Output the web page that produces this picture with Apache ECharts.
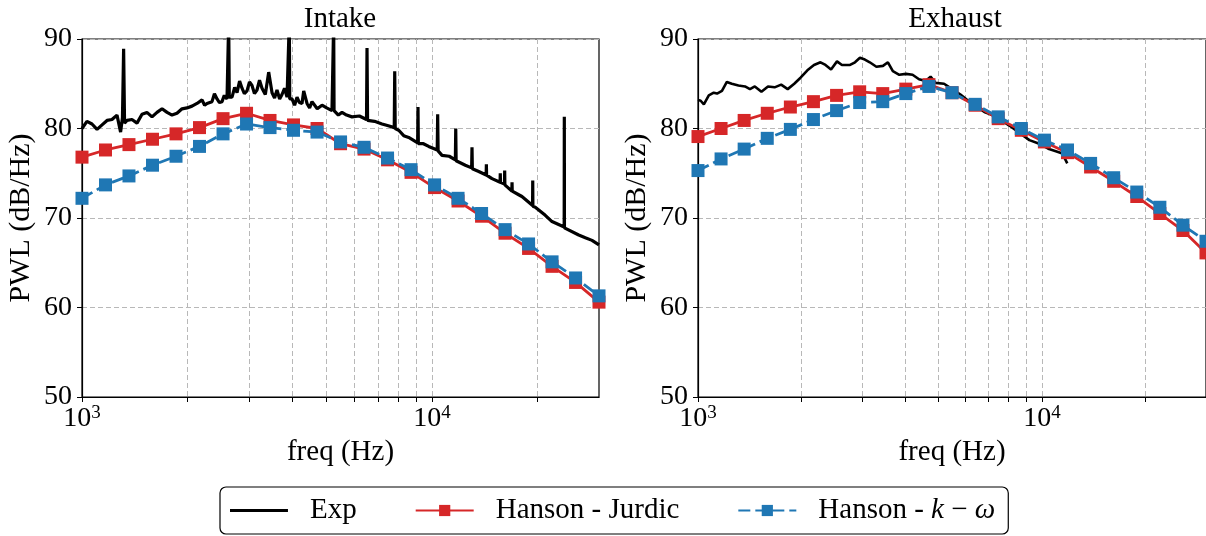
<!DOCTYPE html>
<html><head><meta charset="utf-8">
<script src="https://cdn.jsdelivr.net/npm/echarts@6/dist/echarts.min.js"></script>
<style>html,body{margin:0;padding:0;background:#fff}#c{width:1206px;height:536px}</style>
</head><body><div id="c"></div>
<script>
// ---------- data ----------
const panelTitles = ['Intake', 'Exhaust'];
const seriesNames = ['Exp', 'Hanson - Jurdic', 'Hanson - k − ω'];
const xTickValues = [1000, 2000, 3000, 4000, 5000, 6000, 7000, 8000, 9000, 10000, 20000];
const xLabelValues = [1000, 10000];
const yTicks = [50, 60, 70, 80, 90];

const markerFreq = [1000, 1167, 1362, 1590, 1856, 2166, 2529, 2952, 3445, 4021, 4694, 5479, 6395, 7464, 8712, 10169, 11869, 13854, 16170, 18874, 22030, 25714, 30000];

const intakeJurdic = [76.8, 77.6, 78.2, 78.8, 79.4, 80.1, 81.1, 81.7, 80.9, 80.4, 80.0, 78.3, 77.7, 76.5, 75.1, 73.4, 71.9, 70.2, 68.3, 66.6, 64.6, 62.8, 60.6];
const intakeKw     = [72.2, 73.7, 74.7, 75.9, 76.9, 78.0, 79.4, 80.5, 80.1, 79.8, 79.6, 78.5, 77.9, 76.7, 75.4, 73.7, 72.2, 70.5, 68.7, 67.1, 65.1, 63.3, 61.3];
const exhaustJurdic = [79.1, 80.0, 80.9, 81.7, 82.4, 83.0, 83.7, 84.1, 83.9, 84.4, 84.9, 84.0, 82.6, 81.1, 79.8, 78.5, 77.3, 75.7, 74.1, 72.4, 70.5, 68.6, 66.1];
const exhaustKw     = [75.3, 76.6, 77.7, 78.9, 79.9, 81.0, 82.0, 82.9, 83.0, 83.9, 84.7, 84.0, 82.7, 81.3, 80.0, 78.7, 77.6, 76.1, 74.5, 72.9, 71.2, 69.2, 67.4];

const intakeExpFreq = [1000, 1033, 1068, 1104, 1141, 1179, 1218, 1259, 1289, 1305, 1315, 1323, 1345, 1389, 1436, 1484, 1533, 1585, 1638, 1693, 1750, 1808, 1868, 1931, 1995, 2062, 2131, 2203, 2240, 2276, 2352, 2390, 2431, 2470, 2512, 2550, 2596, 2615, 2625, 2635, 2683, 2730, 2773, 2820, 2865, 2910, 2961, 3010, 3060, 3110, 3162, 3215, 3268, 3340, 3415, 3491, 3550, 3607, 3670, 3728, 3790, 3853, 3900, 3911, 3922, 3981, 4050, 4115, 4180, 4252, 4300, 4394, 4470, 4541, 4700, 4850, 5000, 5179, 5225, 5237, 5250, 5400, 5532, 5700, 5907, 6200, 6500, 6521, 6545, 6850, 7197, 7500, 7800, 7825, 7850, 8034, 8300, 8579, 9100, 9120, 9140, 9450, 9786, 10350, 10380, 10410, 10680, 11200, 11660, 11690, 11720, 12450, 12980, 13010, 13040, 13600, 14280, 14300, 14320, 14840, 15650, 15670, 15690, 16110, 16130, 16150, 16910, 16930, 16950, 17690, 18070, 19380, 19400, 19420, 19730, 21070, 22020, 23860, 23880, 23900, 24040, 26250, 27420, 28650, 30000];
const intakeExpPWL  = [80.0, 80.8, 80.5, 79.9, 80.4, 80.9, 81.0, 81.5, 79.6, 81.2, 88.9, 80.6, 80.9, 81.0, 80.6, 81.6, 81.8, 81.3, 81.8, 82.2, 81.8, 81.5, 81.7, 82.2, 82.3, 82.5, 82.8, 83.2, 82.6, 82.8, 83.0, 83.9, 83.3, 82.9, 83.0, 83.7, 83.3, 83.4, 92.0, 83.5, 83.5, 84.6, 84.0, 85.3, 84.5, 83.9, 84.2, 85.2, 84.8, 83.9, 84.3, 85.4, 84.5, 83.8, 86.3, 84.0, 83.4, 84.3, 83.3, 83.8, 84.5, 83.5, 83.4, 92.0, 83.3, 83.3, 82.6, 83.5, 82.9, 82.8, 84.2, 82.8, 82.3, 83.0, 82.2, 82.6, 82.3, 82.0, 82.0, 92.0, 82.0, 81.5, 81.8, 81.5, 81.3, 81.4, 81.0, 89.0, 80.9, 80.8, 80.5, 80.3, 80.1, 86.4, 80.0, 79.8, 79.2, 79.0, 78.4, 82.4, 78.3, 78.3, 78.0, 77.6, 81.6, 77.5, 77.0, 76.9, 76.5, 80.0, 76.4, 75.9, 75.6, 77.9, 75.5, 75.2, 74.8, 76.0, 74.8, 74.4, 74.0, 75.0, 74.0, 73.8, 75.3, 73.7, 73.0, 74.0, 73.0, 72.6, 72.4, 71.4, 74.2, 71.3, 71.2, 70.3, 69.6, 69.0, 81.3, 68.9, 68.9, 68.1, 67.8, 67.5, 67.0];

const exhaustExpFreq = [1000, 1018, 1040, 1075, 1111, 1136, 1174, 1213, 1254, 1311, 1370, 1416, 1463, 1529, 1598, 1670, 1745, 1823, 1905, 1990, 2080, 2174, 2271, 2348, 2437, 2536, 2621, 2768, 2861, 2957, 3056, 3158, 3301, 3450, 3566, 3686, 3849, 4024, 4206, 4393, 4591, 4745, 4904, 5193, 5486, 5796, 6056, 6470, 6834, 7383, 8060, 8609, 9196, 9823, 10490, 11090, 11470, 11850];
const exhaustExpPWL  = [83.2, 83.1, 82.7, 83.7, 84.0, 83.9, 84.2, 85.2, 85.0, 84.8, 84.7, 84.4, 84.7, 84.1, 84.7, 84.6, 84.9, 84.4, 85.0, 85.7, 86.5, 87.1, 87.4, 87.1, 86.6, 87.5, 87.1, 87.1, 87.4, 87.9, 87.7, 87.4, 86.9, 87.0, 87.4, 86.4, 86.0, 86.1, 86.0, 85.5, 85.3, 85.8, 85.1, 85.0, 84.4, 83.8, 83.2, 82.4, 81.8, 81.3, 80.3, 79.5, 78.7, 78.3, 77.7, 77.4, 77.2, 76.1];

// ---------- chart ----------
const FONT = 'Liberation Serif';
const RED = '#d62728', BLUE = '#1f77b4';
const zip = (xs, ys) => xs.map((x, i) => [x, ys[i]]);
// plain line icon for the "Exp" legend entry (bounding box kept tall by two hairline specks)
const LINE_ICON = 'path://M0,0h0.01v0.01h-0.01z M0,5.5h58v3h-58z M0,14h0.01v0.01h-0.01z';

const grids = [
  { left: 82, top: 39, width: 517, height: 358 },
  { left: 698, top: 39, width: 515, height: 358 }
];

function xAxisFor(g) {
  return {
    type: 'log', logBase: 10, min: 1000, max: 30000, gridIndex: g,
    axisLine: { show: true, onZero: false, lineStyle: { color: '#000', width: 1.2 } },
    axisTick: { show: true, inside: false, length: 5, lineStyle: { color: '#000', width: 1 }, customValues: xTickValues },
    axisLabel: {
      customValues: xLabelValues, margin: 7, color: '#000', fontFamily: FONT, fontSize: 28,
      formatter: v => (Math.abs(v - 1000) < 1 ? '10{s|3}' : Math.abs(v - 10000) < 1 ? '10{s|4}' : ''),
      rich: { s: { fontFamily: FONT, fontSize: 19, verticalAlign: 'top', padding: [0, 0, 10, 0], color: '#000' } }
    },
    splitLine: { show: true, lineStyle: { color: '#b8b8b8', width: 1, type: [5, 3] } },
    name: 'freq (Hz)', nameLocation: 'middle', nameGap: 39,
    nameTextStyle: { color: '#000', fontFamily: FONT, fontSize: 29, verticalAlign: 'top' }
  };
}
function yAxisFor(g) {
  return {
    type: 'value', min: yTicks[0], max: yTicks[yTicks.length - 1], interval: 10, gridIndex: g,
    axisLine: { show: true, lineStyle: { color: '#000', width: 1.2 } },
    axisTick: { show: true, inside: false, length: 5, lineStyle: { color: '#000', width: 1 } },
    axisLabel: { margin: 10, color: '#000', fontFamily: FONT, fontSize: 28 },
    splitLine: { show: true, lineStyle: { color: '#b8b8b8', width: 1, type: [5, 3] } },
    name: 'PWL (dB/Hz)', nameLocation: 'middle', nameGap: 46,
    nameTextStyle: { color: '#000', fontFamily: FONT, fontSize: 30 }
  };
}
function panelSeries(g, expF, expV, jur, kw, expWidth) {
  return [
    { name: seriesNames[0], type: 'line', xAxisIndex: g, yAxisIndex: g, data: zip(expF, expV),
      symbol: 'none', showSymbol: false, clip: true, z: 2,
      lineStyle: { color: '#000', width: expWidth }, itemStyle: { color: '#000' } },
    { name: seriesNames[1], type: 'line', xAxisIndex: g, yAxisIndex: g, data: zip(markerFreq, jur),
      symbol: 'rect', symbolSize: 13, showSymbol: true, clip: true, z: 3,
      lineStyle: { color: RED, width: 2.8 }, itemStyle: { color: RED } },
    { name: seriesNames[2], type: 'line', xAxisIndex: g, yAxisIndex: g, data: zip(markerFreq, kw),
      symbol: 'rect', symbolSize: 13, showSymbol: true, clip: true, z: 4,
      lineStyle: { color: BLUE, width: 2.8, type: [12, 5] }, itemStyle: { color: BLUE } }
  ];
}

const option = {
  animation: false,
  backgroundColor: '#fff',
  title: [
    { text: panelTitles[0], left: 340, top: 5, textAlign: 'center', padding: 0,
      textStyle: { fontFamily: FONT, fontSize: 29, fontWeight: 'normal', color: '#000' } },
    { text: panelTitles[1], left: 955, top: 5, textAlign: 'center', padding: 0,
      textStyle: { fontFamily: FONT, fontSize: 29, fontWeight: 'normal', color: '#000' } }
  ],
  grid: grids.map(g => Object.assign({ show: true, borderColor: '#000', borderWidth: 1.2, backgroundColor: 'transparent' }, g)),
  xAxis: [xAxisFor(0), xAxisFor(1)],
  yAxis: [yAxisFor(0), yAxisFor(1)],
  legend: {
    data: [{ name: seriesNames[0], icon: LINE_ICON, itemStyle: { color: '#000' } }, seriesNames[1], seriesNames[2]],
    left: 220, top: 487, orient: 'horizontal',
    padding: [9, 13, 9, 10], itemGap: 58, itemWidth: 58, itemHeight: 14,
    borderColor: '#000', borderWidth: 1.2, borderRadius: 6,
    formatter: n => (n === seriesNames[2] ? 'Hanson - {i|k} − {i|ω}' : n),
    textStyle: { fontFamily: FONT, fontSize: 29, color: '#000', padding: [0, 0, 0, 17],
      rich: { i: { fontFamily: FONT, fontSize: 29, fontStyle: 'italic', color: '#000' } } }
  },
  series: [
    ...panelSeries(0, intakeExpFreq, intakeExpPWL, intakeJurdic, intakeKw, 3.2),
    ...panelSeries(1, exhaustExpFreq, exhaustExpPWL, exhaustJurdic, exhaustKw, 2.6)
  ]
};
const chart = echarts.init(document.getElementById('c'), null, { renderer: 'canvas' });
chart.setOption(option);
</script></body></html>
